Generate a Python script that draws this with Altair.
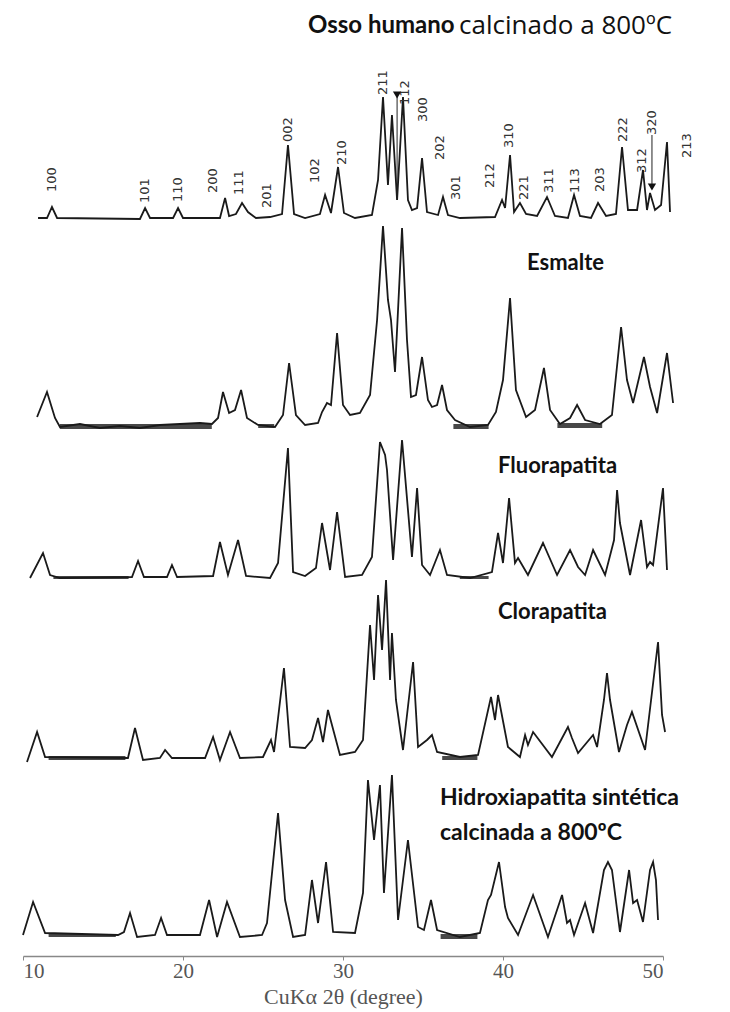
import altair as alt
import pandas as pd

# ---------------- data ----------------
# 2theta (degree) and intensity (a.u., relative to each pattern's own baseline)
osso_2theta = [10.94, 11.5, 11.81, 12.13, 17.31, 17.63, 17.94, 19.38, 19.69, 20.0, 22.31, 22.63, 22.88, 23.31, 23.69, 24.06, 24.56, 25.44, 26.19, 26.56, 26.94, 27.63, 28.56, 28.88, 29.25, 29.69, 30.06, 30.75, 31.81, 32.19, 32.5, 32.81, 33.06, 33.38, 33.75, 34.06, 34.31, 34.63, 34.94, 35.25, 35.94, 36.25, 36.56, 37.31, 39.5, 39.94, 40.13, 40.44, 40.69, 41.06, 41.44, 42.13, 42.75, 43.25, 44.06, 44.44, 44.81, 45.5, 45.94, 46.44, 47.06, 47.44, 47.81, 48.38, 48.75, 49.0, 49.19, 49.5, 49.88, 50.25, 50.44]
osso_int = [0, 0, 11, 0, -1, 10, 0, 0, 10, 0, 0, 20, 2, 4, 15, 6, 0, 1, 4, 73, 4, 0, 4, 23, 5, 51, 5, 0, 3, 38, 121, 33, 103, 18, 121, 18, 8, 10, 60, 6, 3, 21, 3, 0, 1, 18, 10, 63, 6, 15, 4, 2, 21, 2, 0, 23, 2, 0, 15, 2, 4, 71, 8, 8, 48, 8, 25, 8, 13, 76, 6]

esm_2theta = [10.88, 11.5, 12.0, 12.31, 13.56, 14.81, 16.06, 17.31, 18.56, 19.81, 21.06, 21.81, 22.19, 22.5, 22.88, 23.25, 23.63, 24.0, 24.69, 25.75, 26.25, 26.63, 27.06, 27.63, 28.44, 28.69, 29.0, 29.25, 29.63, 30.0, 30.44, 31.06, 31.69, 32.13, 32.5, 32.81, 33.0, 33.25, 33.69, 34.0, 34.25, 34.56, 34.94, 35.31, 35.56, 35.88, 36.19, 36.5, 37.0, 37.94, 39.06, 39.56, 40.0, 40.44, 40.81, 41.44, 42.0, 42.56, 42.94, 43.56, 44.19, 44.63, 45.13, 46.06, 46.81, 47.38, 47.75, 48.13, 48.81, 49.19, 49.63, 50.25, 50.63]
esm_int = [8, 33, 7, -2, 1, -3, -1, -3, 0, 1, 2, 1, 7, 33, 12, 15, 35, 7, 0, -2, 10, 62, 10, 0, 2, 13, 22, 20, 92, 20, 10, 12, 30, 105, 199, 125, 105, 53, 197, 85, 28, 30, 68, 25, 18, 20, 40, 15, 5, -2, 0, 13, 45, 127, 35, 8, 15, 57, 15, 1, 7, 20, 5, 1, 10, 98, 45, 22, 68, 38, 12, 72, 22]

flu_2theta = [10.44, 11.25, 11.69, 12.31, 16.81, 17.19, 17.56, 19.0, 19.31, 19.63, 21.88, 22.31, 22.81, 23.44, 23.94, 25.44, 25.94, 26.56, 26.88, 27.63, 28.31, 28.69, 29.19, 29.63, 30.13, 31.19, 31.81, 32.31, 32.63, 32.75, 33.13, 33.69, 34.31, 34.63, 34.94, 35.44, 36.06, 36.5, 37.94, 39.31, 39.69, 40.0, 40.38, 40.75, 40.94, 41.56, 42.5, 43.38, 44.19, 44.69, 45.13, 45.63, 46.38, 46.94, 47.13, 47.31, 47.94, 48.63, 49.0, 49.19, 49.38, 50.0, 50.25]
flu_int = [-1, 24, 2, -1, 0, 16, 0, 0, 12, 0, 1, 35, 2, 37, 1, -1, 14, 129, 5, 1, 9, 54, 7, 65, 0, 2, 20, 135, 122, 107, 17, 137, 20, 89, 12, 2, 27, 2, -1, 5, 44, 14, 79, 14, 19, 2, 34, 2, 27, 10, 2, 27, 2, 37, 87, 54, 2, 57, 10, 15, 12, 89, 7]

clo_2theta = [10.25, 10.88, 11.38, 16.56, 17.0, 17.5, 18.56, 18.88, 19.31, 21.38, 21.88, 22.31, 22.94, 23.56, 25.0, 25.5, 25.69, 26.31, 26.69, 27.63, 28.06, 28.44, 28.75, 29.06, 29.81, 30.75, 31.25, 31.69, 31.94, 32.19, 32.44, 32.69, 32.94, 33.06, 33.31, 33.75, 34.38, 34.69, 35.25, 35.56, 35.88, 37.31, 38.44, 39.25, 39.5, 39.69, 40.31, 41.06, 41.38, 41.56, 41.88, 43.06, 44.06, 44.31, 44.69, 45.63, 45.88, 46.31, 46.5, 46.69, 47.25, 47.75, 48.06, 48.88, 49.69, 49.94, 50.13]
clo_int = [-5, 25, 0, -1, 29, -3, -1, 7, -1, -1, 20, -3, 25, -1, 0, 17, 5, 89, 10, 9, 17, 39, 15, 47, 2, 5, 17, 132, 77, 162, 107, 177, 77, 124, 57, 7, 95, 10, 17, 22, 5, 0, 2, 60, 37, 62, 10, 0, 22, 12, 25, 0, 30, 19, 4, 22, 10, 57, 84, 57, 5, 32, 45, 7, 115, 42, 25]

hid_2theta = [10.0, 10.63, 11.38, 15.94, 16.31, 16.69, 17.13, 18.25, 18.63, 19.0, 21.06, 21.63, 22.13, 22.75, 23.56, 24.94, 25.25, 25.94, 26.38, 26.88, 27.63, 28.06, 28.44, 28.94, 29.38, 30.75, 31.25, 31.56, 31.94, 32.31, 32.56, 33.06, 33.44, 34.06, 34.69, 35.06, 35.5, 35.88, 37.31, 38.56, 39.06, 39.25, 39.75, 40.13, 40.31, 40.94, 41.88, 42.81, 43.69, 44.0, 44.19, 44.44, 45.13, 45.63, 46.31, 46.56, 46.81, 47.31, 47.88, 48.13, 48.38, 48.75, 49.19, 49.38, 49.56, 49.69]
hid_int = [0, 33, 2, 0, 3, 22, -2, 0, 17, 0, 0, 35, -2, 33, -2, 0, 12, 122, 35, -2, 0, 55, 12, 73, 3, 2, 42, 155, 95, 150, 42, 160, 15, 95, 8, 5, 35, 5, -2, 2, 35, 40, 73, 28, 17, 0, 40, -2, 40, 12, 15, 0, 32, 2, 65, 73, 65, 3, 65, 32, 35, 13, 65, 73, 55, 15]

# vertical stacking offsets of the patterns (a.u.)
trace_names = ["Osso humano", "Esmalte", "Fluorapatita", "Clorapatita", "Hidroxiapatita"]
trace_offsets = [738, 531, 379, 199, 21]

# background-noise envelope on flat stretches: trace, 2theta from, 2theta to, low, high
noise_trace = ["Esmalte", "Esmalte", "Esmalte", "Esmalte", "Fluorapatita", "Fluorapatita",
               "Clorapatita", "Clorapatita", "Hidroxiapatita", "Hidroxiapatita"]
noise_from = [12.3, 24.7, 36.9, 43.4, 11.9, 37.3, 11.6, 36.2, 11.6, 36.1]
noise_to = [21.8, 25.7, 39.1, 46.2, 16.6, 39.1, 16.4, 38.4, 15.8, 38.4]
noise_low = [-4, -3, -4, -3, -2, -2, -3, -3, -2, -4]
noise_high = [1, 1, 1, 2, 1, 1, 1, 1, 1, 1]

# Miller indices marked on the top pattern
hkl_labels = ["100", "101", "110", "200", "111", "201", "002", "102", "210", "211", "112", "300",
              "202", "301", "212", "310", "221", "311", "113", "203", "222", "312", "320", "213"]
hkl_2theta = [11.81, 17.63, 19.69, 21.88, 23.5, 25.25, 26.56, 28.25, 29.94, 32.5, 33.88, 35.0,
              36.06, 37.06, 39.19, 40.38, 41.31, 42.88, 44.5, 46.06, 47.5, 48.69, 49.31, 51.5]
hkl_level = [764, 753, 754, 763, 761, 748, 814, 773, 791, 861, 851, 834,
             796, 756, 768, 808, 756, 763, 763, 764, 814, 783, 821, 798]

# arrows (112 and 320)
arrow_2theta = [33.38, 49.31]
arrow_tip = [861, 769]
arrow_end = [756, 821]

# sample names
name_text = ["Osso humano", "Esmalte", "Fluorapatita", "Clorapatita", "Hidroxiapatita sintética", "calcinada a 800ºC"]
name_2theta = [27.81, 41.5, 39.69, 39.69, 36.06, 36.06]
name_level = [930, 693, 490, 344, 158, 123]
name_size = [24, 22, 22, 22, 23, 23]

# ---------------- tables ----------------
series = [
    (osso_2theta, osso_int), (esm_2theta, esm_int), (flu_2theta, flu_int),
    (clo_2theta, clo_int), (hid_2theta, hid_int),
]
offset_of = dict(zip(trace_names, trace_offsets))
rows = []
for name, (xs, ys) in zip(trace_names, series):
    assert len(xs) == len(ys), name
    for i, (x, y) in enumerate(zip(xs, ys)):
        rows.append({"trace": name, "i": i, "two_theta": x, "y": y + offset_of[name]})
lines_df = pd.DataFrame(rows)

nrows = []
for k, (t, a, b, lo, hi) in enumerate(zip(noise_trace, noise_from, noise_to, noise_low, noise_high)):
    for x in (a, b):
        nrows.append({"seg": k, "two_theta": x, "lo": lo + offset_of[t], "hi": hi + offset_of[t]})
noise_df = pd.DataFrame(nrows)

hkl_df = pd.DataFrame({"two_theta": hkl_2theta, "y": hkl_level, "hkl": hkl_labels})
arrow_df = pd.DataFrame({"two_theta": arrow_2theta, "y": arrow_tip, "y2": arrow_end})
names_df = pd.DataFrame({"two_theta": name_2theta, "y": name_level, "label": name_text, "size": name_size})
title_df = pd.DataFrame({"two_theta": [37.25], "y": [930], "label": ["calcinado a 800ºC"]})

W, H = 640, 956
xscale = alt.Scale(domain=[10, 50], nice=False, zero=False)
yscale = alt.Scale(domain=[0, H], nice=False, zero=False)

xaxis = alt.Axis(values=[10, 20, 30, 40, 50], grid=False, title="CuKα 2θ (degree)",
                 labelFont="Liberation Serif", labelFontSize=21, labelColor="#555",
                 labelPadding=0, tickSize=4, tickColor="#888", domainColor="#888",
                 domainWidth=1.6, titleFont="Liberation Serif", titleFontSize=22,
                 titleFontWeight="normal", titleColor="#555", titlePadding=5)

X = alt.X("two_theta:Q", scale=xscale, axis=xaxis)
Xs = alt.X("two_theta:Q", scale=xscale)
Ys = alt.Y("y:Q", scale=yscale, axis=None)

lines = alt.Chart(lines_df).mark_line(color="#1a1a1a", strokeWidth=1.8).encode(
    x=X, y=Ys, detail="trace:N", order="i:Q",
)

noise = alt.Chart(noise_df).mark_area(color="#1a1a1a", opacity=0.8).encode(
    x=Xs,
    y=alt.Y("lo:Q", scale=yscale, axis=None),
    y2="hi:Q",
    detail="seg:N",
)

hkl = alt.Chart(hkl_df).mark_text(angle=270, align="left", baseline="middle",
                                  font="DejaVu Sans", fontSize=13, color="#333").encode(
    x=Xs, y=Ys, text="hkl:N",
)

arrow_rules = alt.Chart(arrow_df).mark_rule(color="#222", strokeWidth=1).encode(
    x=Xs, y=Ys, y2="y2:Q",
)
arrow_heads = alt.Chart(arrow_df).mark_point(shape="triangle-down", filled=True, size=70,
                                             color="#111", opacity=1).encode(
    x=Xs, y=Ys,
)

names = alt.Chart(names_df).mark_text(align="left", baseline="middle", font="Lato",
                                      fontWeight="bold", color="#111").encode(
    x=Xs, y=Ys, text="label:N",
    size=alt.Size("size:Q", scale=None, legend=None),
)
title_rest = alt.Chart(title_df).mark_text(align="left", baseline="middle", font="Open Sans",
                                           fontSize=26, color="#111").encode(
    x=Xs, y=Ys, text="label:N",
)

chart = alt.layer(lines, noise, hkl, arrow_rules, arrow_heads, names, title_rest).properties(
    width=W, height=H,
    autosize=alt.AutoSizeParams(type="none"),
    padding={"left": 23, "top": 0, "right": 67, "bottom": 56},
    background="white",
).configure_view(stroke=None)

chart.save("out.html", embed_options={"renderer": "svg", "actions": False})
